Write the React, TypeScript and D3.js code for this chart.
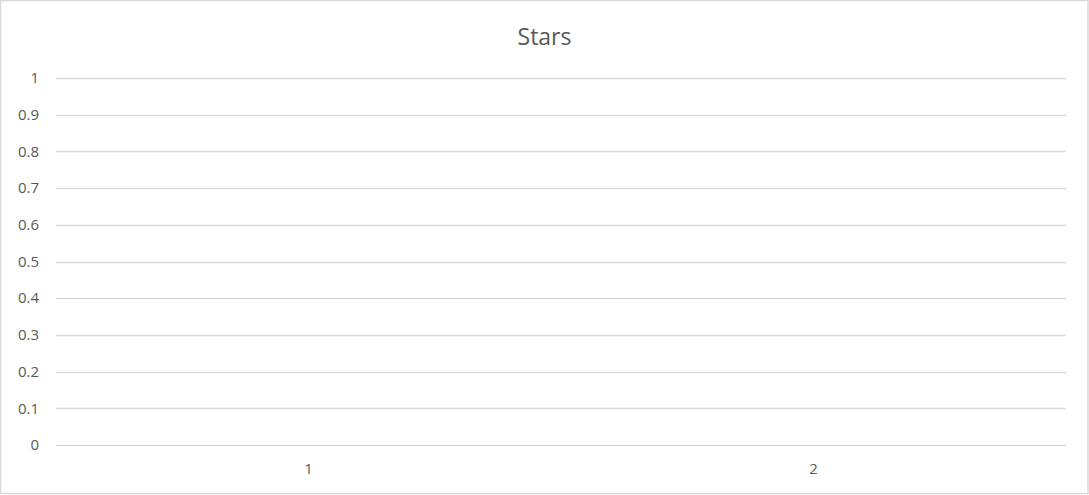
import React, { useEffect, useRef } from 'react';
import * as d3 from 'd3';

// chart has no plotted series, only the axes
const categories = ['1', '2'];
const starValues: number[] = [];
const yTicks = [0, 0.1, 0.2, 0.3, 0.4, 0.5, 0.6, 0.7, 0.8, 0.9, 1];

const App = () => {
    const svgRef = useRef<SVGSVGElement>(null);

    useEffect(() => {
        const totalWidth = 1089,
            totalHeight = 495;
        const margin = { top: 78, right: 23, bottom: 50, left: 56 },
            width = totalWidth - margin.left - margin.right;

        const svg = d3.select(svgRef.current)
            .html('')
            .attr('width', totalWidth)
            .attr('height', totalHeight)
            .style('font-family', "'Open Sans', sans-serif");

        svg.append('rect')
            .attr('x', 0.5)
            .attr('y', 0.5)
            .attr('width', 1087.5)
            .attr('height', 493)
            .attr('fill', '#fff')
            .attr('stroke', '#d9d9d9')
            .attr('stroke-width', 1.5);

        svg.append('text')
            .attr('x', totalWidth / 2)
            .attr('y', 45)
            .attr('text-anchor', 'middle')
            .attr('fill', '#595959')
            .style('font-size', '23px')
            .text('Stars');

        const x = d3.scaleBand().domain(categories).range([0, width]);
        const y = d3.scaleLinear().domain([0, 1]).range([445 - margin.top, 0]);

        const g = svg.append('g').attr('transform', `translate(${margin.left},${margin.top})`);

        g.append('g')
            .selectAll('line')
            .data(yTicks)
            .enter().append('line')
            .attr('x1', 0)
            .attr('x2', width)
            .attr('y1', d => Math.round(y(d)) + 0.5)
            .attr('y2', d => Math.round(y(d)) + 0.5)
            .attr('stroke', '#d9d9d9')
            .attr('stroke-width', 1.3);

        g.append('g')
            .selectAll('text')
            .data(yTicks)
            .enter().append('text')
            .attr('x', -17)
            .attr('y', d => y(d))
            .attr('dy', '0.35em')
            .attr('text-anchor', 'end')
            .attr('fill', '#595959')
            .style('font-size', '15px')
            .text(d => d3.format('~g')(d));

        g.append('g')
            .selectAll('text')
            .data(categories)
            .enter().append('text')
            .attr('x', d => (x(d) as number) + x.bandwidth() / 2)
            .attr('y', y(0) + 24)
            .attr('dy', '0.35em')
            .attr('text-anchor', 'middle')
            .attr('fill', '#595959')
            .style('font-size', '15px')
            .text(d => d);

        // no bars: series is empty
        g.selectAll('.bar')
            .data(starValues)
            .enter().append('rect')
            .attr('class', 'bar')
            .attr('x', (d, i) => x(categories[i]) as number)
            .attr('width', x.bandwidth())
            .attr('y', d => y(d))
            .attr('height', d => y(0) - y(d))
            .attr('fill', '#4472c4');
    }, []);

    return (
        <svg ref={svgRef} style={{ position: 'absolute', left: 0, top: 0 }}></svg>
    );
};

export default App;
